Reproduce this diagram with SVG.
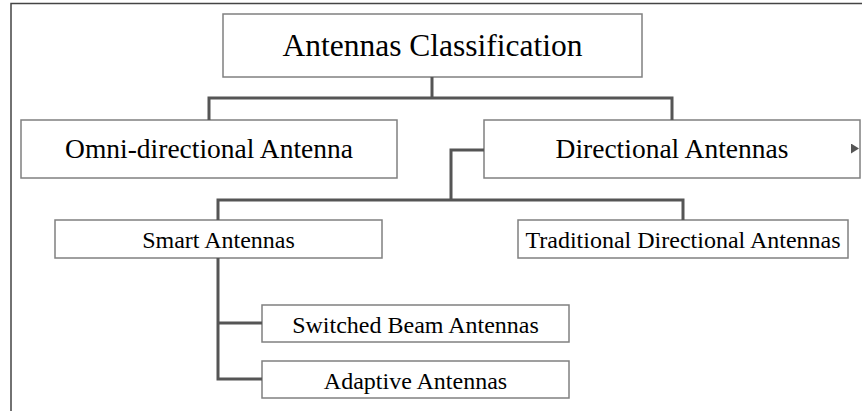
<svg xmlns="http://www.w3.org/2000/svg" width="862" height="411" viewBox="0 0 862 411">
  <style>
    .box { fill: #ffffff; stroke: #808080; stroke-width: 1.5; }
    .link { fill: none; stroke: #555555; stroke-width: 3; stroke-linejoin: miter; }
    .frame { fill: none; stroke: #444444; stroke-width: 1.5; }
    text { font-family: "Liberation Serif", "Times New Roman", serif; fill: #000000; text-anchor: middle; }
    .t1 { font-size: 31.5px; }
    .t2 { font-size: 27.5px; }
    .t3 { font-size: 24px; }
  </style>
  <defs>
    <marker id="tip" viewBox="0 0 8 10" refX="8" refY="5" markerWidth="8" markerHeight="10" markerUnits="userSpaceOnUse" orient="auto">
      <path d="M0,0 L8,5 L0,10 Z" fill="#555555"/>
    </marker>
  </defs>

  <rect width="862" height="411" fill="#ffffff"/>
  <!-- outer frame (top and left edges) -->
  <path class="frame" d="M11,411 V3.5 H862"/>

  <g id="root">
    <rect class="box" x="223" y="14" width="419" height="63"/>
    <text class="t1" x="432.5" y="56">Antennas Classification</text>
  </g>

  <g id="omni">
    <rect class="box" x="21" y="120" width="376" height="58"/>
    <text class="t2" x="209" y="158">Omni-directional Antenna</text>
  </g>

  <g id="directional">
    <rect class="box" x="484" y="120" width="376" height="58"/>
    <text class="t2" x="672" y="158">Directional Antennas</text>
  </g>

  <g id="smart">
    <rect class="box" x="55" y="220" width="327" height="38"/>
    <text class="t3" x="218.5" y="248">Smart Antennas</text>
  </g>

  <g id="traditional">
    <rect class="box" x="518" y="220" width="330" height="38"/>
    <text class="t3" x="683" y="248">Traditional Directional Antennas</text>
  </g>

  <g id="switched">
    <rect class="box" x="262" y="305" width="307" height="37"/>
    <text class="t3" x="415.5" y="333">Switched Beam Antennas</text>
  </g>

  <g id="adaptive">
    <rect class="box" x="262" y="361" width="307" height="37"/>
    <text class="t3" x="415.5" y="389">Adaptive Antennas</text>
  </g>

  <!-- connectors, drawn over the boxes -->
  <g id="connectors">
    <path class="link" d="M432,77 V98"/>
    <path class="link" d="M209,120 V98 H672 V120"/>
    <path class="link" d="M484,150 H451 V200"/>
    <path class="link" d="M218,220 V200 H683 V220"/>
    <path class="link" d="M218,258 V379 H262"/>
    <path class="link" d="M218,323 H262"/>
    <path d="M851,148.5 H859" stroke="none" fill="none" marker-end="url(#tip)"/>
  </g>
</svg>
